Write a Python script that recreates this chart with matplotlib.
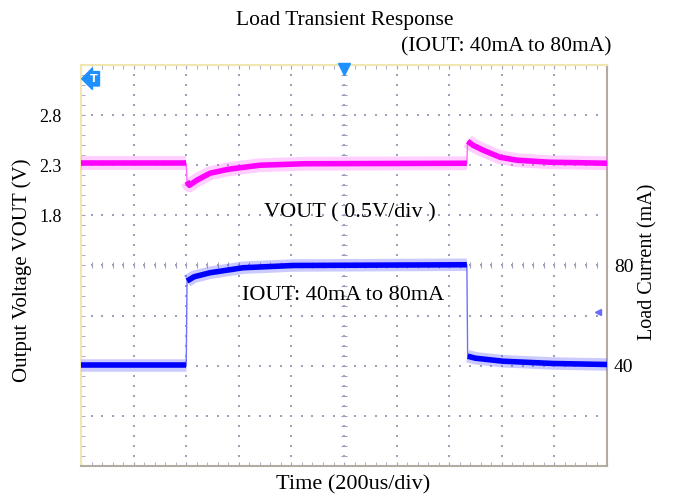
import numpy as np
import matplotlib
matplotlib.use("Agg")
import matplotlib.pyplot as plt

t_v0 = [0, 400]
v0 = [2.32, 2.32]
t_v1 = [403, 412, 440, 490, 560, 680, 850, 1467]
v1 = [2.14, 2.10, 2.15, 2.22, 2.26, 2.30, 2.315, 2.32]
t_v2 = [1470, 1490, 1529, 1593, 1658, 1783, 1900, 2000]
v2 = [2.54, 2.50, 2.45, 2.38, 2.35, 2.33, 2.325, 2.32]

t_i0 = [0, 400]
i0 = [40.2, 40.2]
t_i1 = [403, 430, 490, 616, 806, 1467]
i1 = [73.8, 75.5, 77.1, 79.1, 80.0, 80.3]
t_i2 = [1470, 1500, 1605, 1795, 2000]
i2 = [43.8, 43.0, 41.8, 40.9, 40.5]

v_ticks = [1.8, 2.3, 2.8]
i_ticks = [40, 80]

plt.rcParams["font.family"] = ["Liberation Serif", "DejaVu Serif"]

fig = plt.figure(figsize=(6.73, 4.95), dpi=100)
ax = fig.add_axes([0.1204, 0.0586, 0.7816, 0.8101])
ax.set_xlim(0, 2000)
ax.set_ylim(-0.7, 3.3)

# reticula tipo osciloscopio
grid_col = "#a0a0bc"
div_x = np.arange(200, 2000, 200)
div_y = np.arange(-0.2, 3.3, 0.5)
fine_x = np.arange(0, 2001, 40)
fine_y = np.arange(-0.7, 3.31, 0.1)
for x in div_x:
    ax.scatter(np.full(len(fine_y), x), fine_y, s=1.2, marker="s", color=grid_col, lw=0, zorder=1)
for y in div_y:
    ax.scatter(fine_x, np.full(len(fine_x), y), s=1.2, marker="s", color=grid_col, lw=0, zorder=1)
ax.scatter(np.full(len(fine_y), 1000), fine_y, s=16, marker="_", color=grid_col, lw=0.8, zorder=1)
ax.scatter(fine_x, np.full(len(fine_x), 1.3), s=16, marker="|", color=grid_col, lw=0.8, zorder=1)

ax.set_xticks(np.arange(0, 2001, 200))
ax.set_xticks(fine_x, minor=True)
ax.set_yticks(v_ticks)
ax.set_yticks(fine_y, minor=True)
ax.tick_params(axis="x", which="both", direction="in", top=True, labelbottom=False,
               color=grid_col, length=3)
ax.tick_params(axis="y", which="minor", direction="in", right=True, color=grid_col, length=3)
ax.tick_params(axis="y", which="major", direction="in", length=3, color=grid_col,
               labelsize=13, pad=14)

for s in ["top", "left"]:
    ax.spines[s].set_color("#efe6b0")
    ax.spines[s].set_linewidth(1.5)
for s in ["bottom", "right"]:
    ax.spines[s].set_color("#b4aaa2")
    ax.spines[s].set_linewidth(1.5)

# VOUT
ax.plot(t_v0 + t_v1 + t_v2, v0 + v1 + v2, color="#ff66ff", lw=1, zorder=3)
for tt, vv in [(t_v0, v0), (t_v1, v1), (t_v2, v2)]:
    ax.plot(tt, vv, color="#ff66ff", lw=10, alpha=0.3, solid_capstyle="butt", zorder=3)
    ax.plot(tt, vv, color="#ff00ff", lw=4, solid_capstyle="butt", zorder=4)

# IOUT
ax2 = ax.twinx()
ax2.set_ylim(0, 160)
ax2.set_yticks(i_ticks)
ax2.tick_params(axis="y", length=0, labelsize=14, pad=5)
for s in ax2.spines.values():
    s.set_visible(False)
ax2.plot(t_i0 + t_i1 + t_i2, i0 + i1 + i2, color="#7070ff", lw=1, zorder=3)
for tt, ii in [(t_i0, i0), (t_i1, i1), (t_i2, i2)]:
    ax2.plot(tt, ii, color="#5050ff", lw=9, alpha=0.3, solid_capstyle="butt", zorder=3)
    ax2.plot(tt, ii, color="#0000ff", lw=4, solid_capstyle="butt", zorder=4)

# marcadores del osciloscopio
ax2.plot([1000], [158.5], marker="v", ms=9, color="#1e90ff", clip_on=False, zorder=6)
ax2.plot([1966], [61.4], marker="<", ms=5, color="#6a6aff", zorder=6)
ax2.text(47, 154.5, "T", color="white", fontsize=8, fontweight="bold", family="DejaVu Sans",
         ha="center", va="center", zorder=7,
         bbox=dict(boxstyle="larrow,pad=0.2", fc="#1e90ff", ec="#1e90ff"))

# textos
fig.text(345 / 673, 1 - 20 / 495, "Load Transient Response", ha="center", va="center", fontsize=15.5)
fig.text(506 / 673, 1 - 47 / 495, "(IOUT: 40mA to 80mA)", ha="center", va="center", fontsize=15.5)
fig.text(350 / 673, 1 - 213 / 495, "VOUT ( 0.5V/div )", ha="center", va="center", fontsize=16)
fig.text(343 / 673, 1 - 296 / 495, "IOUT: 40mA to 80mA", ha="center", va="center", fontsize=16)
fig.text(353 / 673, 1 - 485 / 495, "Time (200us/div)", ha="center", va="center", fontsize=16)
fig.text(22 / 673, 1 - 270 / 495, "Output Voltage VOUT (V)", ha="center", va="center",
         rotation=90, fontsize=15)
fig.text(648 / 673, 1 - 262 / 495, "Load Current (mA)", ha="center", va="center",
         rotation=90, fontsize=14.5)

fig.savefig("out.png", dpi=100, facecolor="white")
